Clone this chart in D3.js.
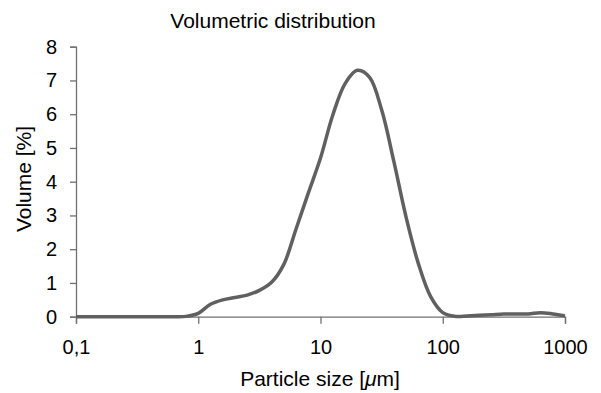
<!DOCTYPE html>
<html>
<head>
<meta charset="utf-8">
<script src="https://cdn.jsdelivr.net/npm/d3@7"></script>
<style>
  body { margin: 0; background: #fff; }
  text { font-family: "Liberation Sans", Arial, sans-serif; fill: #000; }
</style>
</head>
<body>
<svg id="chart" width="601" height="393"></svg>
<script>
// particle size grid (log10 of size in um, step 0.1 decade)
const logSizes = [-1.0, -0.9, -0.8, -0.7, -0.6, -0.5, -0.4, -0.3, -0.2, -0.1,
  0.0, 0.1, 0.2, 0.3, 0.4, 0.5, 0.6, 0.7, 0.8, 0.9,
  1.0, 1.1, 1.2, 1.3, 1.4, 1.5, 1.6, 1.7, 1.8, 1.9,
  2.0, 2.1, 2.2, 2.3, 2.4, 2.5, 2.6, 2.7, 2.8, 2.9, 3.0];
// volume in %
const volumes = [0, 0, 0, 0, 0, 0, 0, 0, 0, 0.01,
  0.1, 0.37, 0.5, 0.57, 0.64, 0.78, 1.02, 1.55, 2.6, 3.66,
  4.7, 5.97, 6.9, 7.3, 7.1, 6.13, 4.6, 2.95, 1.58, 0.6,
  0.12, 0.01, 0.02, 0.04, 0.06, 0.08, 0.08, 0.08, 0.12, 0.08, 0.02];
const xTicks = [0.1, 1, 10, 100, 1000];
const yTicks = [0, 1, 2, 3, 4, 5, 6, 7, 8];

const data = logSizes.map((l, i) => ({ size: Math.pow(10, l), vol: volumes[i] }));

const svg = d3.select('#chart');
const margin = { top: 46.7, right: 36, bottom: 76.3, left: 76 };
const width = 601, height = 393;

const x = d3.scaleLog()
  .domain([0.1, 1000])
  .range([margin.left, width - margin.right]);

const y = d3.scaleLinear()
  .domain([0, 8])
  .range([height - margin.bottom, margin.top]);

// title
svg.append('text')
  .attr('x', 273)
  .attr('y', 28.3)
  .attr('text-anchor', 'middle')
  .style('font-size', '21px')
  .text('Volumetric distribution');

// x axis
const xAxis = d3.axisBottom(x)
  .tickValues(xTicks)
  .tickSize(7)
  .tickPadding(10)
  .tickFormat(d => String(d).replace('.', ','));

const gx = svg.append('g')
  .attr('transform', 'translate(0,' + y(0) + ')')
  .call(xAxis);
gx.select('.domain').attr('stroke', '#707070').attr('stroke-width', 1.3);
gx.selectAll('.tick line').attr('stroke', '#707070').attr('stroke-width', 1.3);
gx.selectAll('.tick text').style('font-size', '20px').attr('fill', '#000').attr('y', 23);

// y axis
const yAxis = d3.axisLeft(y)
  .tickValues(yTicks)
  .tickSize(6)
  .tickPadding(13)
  .tickFormat(d3.format('d'));

const gy = svg.append('g')
  .attr('transform', 'translate(' + margin.left + ',0)')
  .call(yAxis);
gy.select('.domain').attr('stroke', '#707070').attr('stroke-width', 1.3);
gy.selectAll('.tick line').attr('stroke', '#707070').attr('stroke-width', 1.3);
gy.selectAll('.tick text').style('font-size', '20px').attr('fill', '#000');

// axis labels
const xl = svg.append('text')
  .attr('x', 320)
  .attr('y', 385.7)
  .attr('text-anchor', 'middle')
  .style('font-size', '21px');
xl.append('tspan').text('Particle size [');
xl.append('tspan').style('font-style', 'italic').text('\u03bc');
xl.append('tspan').text('m]');

svg.append('text')
  .attr('transform', 'translate(31,179) rotate(-90)')
  .attr('text-anchor', 'middle')
  .style('font-size', '21px')
  .text('Volume [%]');

// curve
const line = d3.line()
  .curve(d3.curveCatmullRom.alpha(0.5))
  .x(d => x(d.size))
  .y(d => y(d.vol));

svg.append('path')
  .datum(data)
  .attr('fill', 'none')
  .attr('stroke', '#606060')
  .attr('stroke-width', 3.5)
  .attr('stroke-linejoin', 'round')
  .attr('d', line);
</script>
</body>
</html>
